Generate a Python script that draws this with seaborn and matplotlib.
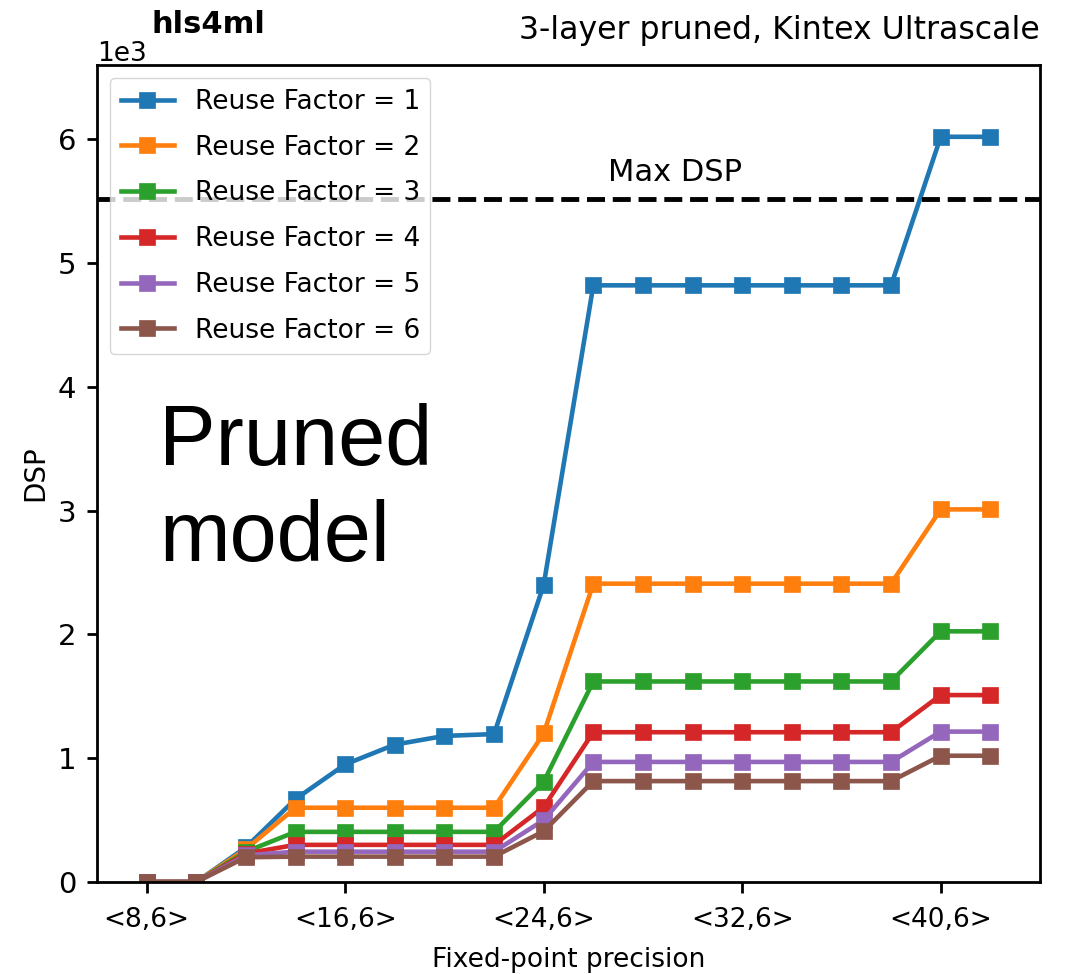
import numpy as np
import pandas as pd
import matplotlib
matplotlib.use("Agg")
import matplotlib.pyplot as plt
import seaborn as sns

# ---- data ----
bits = [8, 10, 12, 14, 16, 18, 20, 22, 24, 26, 28, 30, 32, 34, 36, 38, 40, 42]
rf1 = [0, 0, 280, 670, 950, 1110, 1180, 1195, 2400, 4820, 4820, 4820, 4820, 4820, 4820, 4820, 6020, 6020]
rf2 = [0, 0, 265, 600, 600, 600, 600, 600, 1200, 2410, 2410, 2410, 2410, 2410, 2410, 2410, 3010, 3010]
rf3 = [0, 0, 245, 405, 405, 405, 405, 405, 810, 1620, 1620, 1620, 1620, 1620, 1620, 1620, 2025, 2025]
rf4 = [0, 0, 230, 300, 300, 300, 300, 300, 605, 1210, 1210, 1210, 1210, 1210, 1210, 1210, 1510, 1510]
rf5 = [0, 0, 215, 245, 245, 245, 245, 245, 500, 970, 970, 970, 970, 970, 970, 970, 1215, 1215]
rf6 = [0, 0, 200, 205, 205, 205, 205, 205, 410, 815, 815, 815, 815, 815, 815, 815, 1020, 1020]
series = {"Reuse Factor = 1": rf1, "Reuse Factor = 2": rf2, "Reuse Factor = 3": rf3,
          "Reuse Factor = 4": rf4, "Reuse Factor = 5": rf5, "Reuse Factor = 6": rf6}
xtick_pos = [8, 16, 24, 32, 40]
xtick_labels = ["<8,6>", "<16,6>", "<24,6>", "<32,6>", "<40,6>"]
max_dsp = 5520

df = pd.DataFrame([(b, v, name) for name, vals in series.items() for b, v in zip(bits, vals)],
                  columns=["bits", "dsp", "rf"])

plt.rcParams['font.family'] = ['DejaVu Sans']
fig = plt.figure(figsize=(10.72, 9.74), dpi=100)
ax = fig.add_axes([97/1072, 1-882/974, (1040-97)/1072, (882-65)/974])

colors = sns.color_palette("tab10", 6)
for (name, _), c in zip(series.items(), colors):
    sub = df[df["rf"] == name]
    sns.lineplot(data=sub, x="bits", y="dsp", ax=ax, color=c, marker="s", markersize=11,
                 markeredgecolor=c, markeredgewidth=0.5, linewidth=3.3, label=name)
for ln in ax.lines:
    ln.set_linewidth(3.3)

ax.axhline(max_dsp, color="black", linestyle="--", linewidth=3.5)
ax.text(26.6, 5660, "Max DSP", fontsize=22, va="baseline", ha="left")
ax.text(8.5, 3370, "Pruned", fontsize=61, family=["Liberation Sans"], va="baseline")
ax.text(8.5, 2590, "model", fontsize=61, family=["Liberation Sans"], va="baseline")

ax.set_xlim(6, 44)
ax.set_ylim(0, 6600)
ax.set_xticks(xtick_pos)
ax.set_xticklabels(xtick_labels)
ax.set_yticks([0, 1000, 2000, 3000, 4000, 5000, 6000])
ax.ticklabel_format(style="sci", scilimits=(0, 0), axis="y")
ax.yaxis.get_offset_text().set_fontsize(19)
ax.tick_params(axis="x", labelsize=19, length=8, width=2, pad=10)
ax.tick_params(axis="y", labelsize=21, length=7, width=2, pad=8)
for s in ax.spines.values():
    s.set_linewidth(2)
    s.set_color("black")
ax.set_xlabel("Fixed-point precision", fontsize=19, labelpad=10)
ax.set_ylabel("DSP", fontsize=20, labelpad=6)

leg = ax.legend(loc="upper left", fontsize=19, handlelength=2.0, labelspacing=0.75)
for h in leg.get_lines():
    h.set_linewidth(3.3)

fig.text(152/1072, 1-33/974, "hls4ml", fontsize=22, fontweight="bold", ha="left", va="baseline")
fig.text(1040/1072, 1-39/974, "3-layer pruned, Kintex Ultrascale", fontsize=22.7, ha="right", va="baseline")

fig.savefig("out.png", dpi=100)
